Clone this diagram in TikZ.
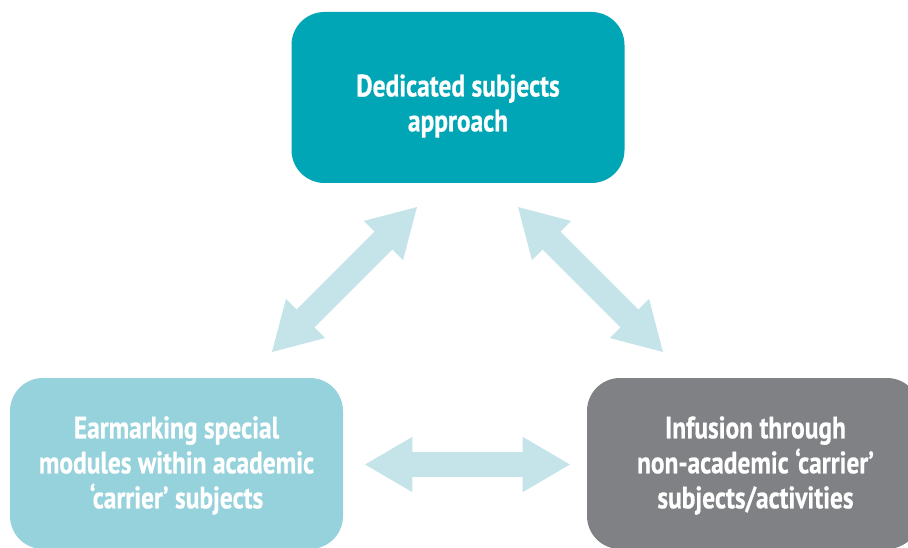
\documentclass[tikz,border=0pt]{standalone}
\usepackage{fontspec}
\setmainfont[FakeStretch=0.82,BoldFont={PT Sans Bold},BoldFeatures={FakeStretch=0.82,FakeBold=0.6}]{PT Sans}
\usetikzlibrary{shapes.arrows,calc}
\definecolor{topcol}{HTML}{00A6B6}
\definecolor{leftcol}{HTML}{96D2DB}
\definecolor{rightcol}{HTML}{7F8185}
\definecolor{arrcol}{HTML}{C5E4E9}
\tikzset{
  box/.style={rectangle, rounded corners=33pt, minimum width=333pt, minimum height=171pt, inner sep=0pt, draw=none},
  lbl/.style={text=white, align=center, font=\fontsize{31}{35}\selectfont\bfseries, inner sep=0pt},
  fatarrow/.style={double arrow, fill=arrcol, draw=none, inner sep=0pt, text height=12.5pt, text depth=12.5pt, text width=0pt, minimum height=205pt, double arrow head extend=15pt, double arrow tip angle=60.6}
}
\begin{document}
\begin{tikzpicture}[x=1pt,y=1pt]
\useasboundingbox (0,0) rectangle (908,-548);
\clip (0,0) rectangle (908,-548);
\node[box, fill=topcol] (top) at (458,-97.5) {};
\node[box, fill=leftcol] (left) at (176.5,-463.5) {};
\node[box, fill=rightcol] (right) at (753.5,-463.5) {};
\node[lbl] (toptext) at ($(top.center)+(0,-8.5)$) {Dedicated subjects\\approach};
\node[lbl] (lefttext) at ($(left.center)+(0,-2)$) {Earmarking special\\modules within academic\\‘carrier’ subjects};
\node[lbl] (righttext) at ($(right.center)+(2,-2)$) {Infusion through\\non-academic ‘carrier’\\subjects/activities};
\node[fatarrow, rotate=45] (a1) at (344.5,-279.5) {};
\node[fatarrow, rotate=-45] (a2) at (590.5,-279.5) {};
\node[fatarrow] (a3) at (467.5,-464.5) {};
\end{tikzpicture}
\end{document}
